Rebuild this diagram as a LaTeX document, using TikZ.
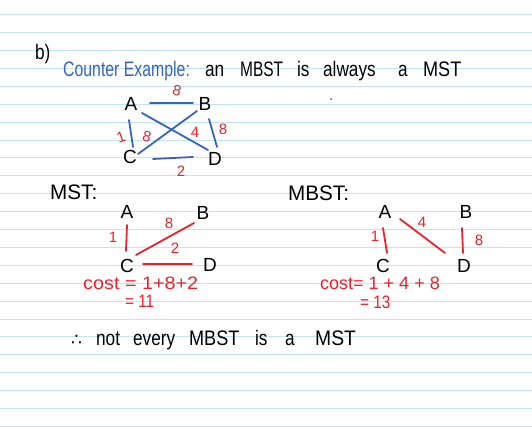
\documentclass[tikz,border=0pt]{standalone}
\usepackage{fontspec}
\setmainfont{Liberation Sans}
\newfontfamily\symfont{DejaVu Sans}
\usetikzlibrary{calc}
\definecolor{penblue}{RGB}{52,100,188}
\definecolor{penred}{RGB}{234,34,44}
\definecolor{paperrule}{RGB}{196,228,246}
\newcommand\hwbig{\fontsize{21}{21}\selectfont}
\newcommand\hwvtx{\fontsize{19}{19}\selectfont}
\newcommand\hwcost{\fontsize{18}{18}\selectfont}
\newcommand\hwlab{\fontsize{15}{15}\selectfont}
\tikzset{
  txt/.style={inner sep=0pt, anchor=base west, font=\hwbig, xscale=0.82},
  vtx/.style={inner sep=0pt, font=\hwvtx},
  redlab/.style={inner sep=0pt, text=penred, font=\hwlab},
  costtxt/.style={inner sep=0pt, anchor=base west, text=penred, font=\hwcost},
  blueedge/.style={draw=penblue, line width=1.8pt, line cap=round},
  rededge/.style={draw=penred, line width=1.8pt, line cap=round},
}
\begin{document}
\begin{tikzpicture}[x=1pt,y=-1pt]
\useasboundingbox (0,0) rectangle (532,427);
\fill[white] (0,0) rectangle (532,427);
\foreach \k in {0,...,23}
  \draw[paperrule, line width=0.9pt] (0,{14.7+17.9*\k}) -- (532,{14.7+17.9*\k});

% header
\node[txt] (b) at (35,60) {b)};
\node[txt, text=penblue, xscale=0.92] (ce) at (63,77) {Counter Example:};
\node[txt] (w1) at (205,77) {an};
\node[txt, xscale=0.9] (w2) at (240,77) {MBST};
\node[txt] (w3) at (297,77) {is};
\node[txt] (w4) at (323,77) {always};
\node[txt] (w5) at (398,77) {a};
\node[txt, xscale=1.05] (w6) at (423,77) {MST};
\fill[penblue] (331,99) circle (1pt);

% top graph
\node[vtx] (A1) at (131,104) {A};
\node[vtx] (B1) at (205,104) {B};
\node[vtx] (C1) at (130,157) {C};
\node[vtx] (D1) at (215,159) {D};
\draw[blueedge] ($(A1)+(19,-1)$) -- ($(B1)+(-12,-1)$);
\draw[blueedge] ($(A1)+(-2,16)$) -- ($(C1)+(3,-10)$);
\draw[blueedge] ($(A1)+(11,9)$) -- ($(D1)+(-7,-9)$);
\draw[blueedge] ($(B1)+(-8,7)$) -- ($(C1)+(8,-3)$);
\draw[blueedge] ($(B1)+(4,15)$) -- ($(D1)+(2,-12)$);
\draw[blueedge] ($(C1)+(23,2)$) -- ($(D1)+(-22,-2)$);
\node[redlab, rotate=-15] (t8a) at (177,91) {8};
\node[redlab, rotate=20] (t1) at (121,137) {1};
\node[redlab, rotate=-15] (t8b) at (147,137) {8};
\node[redlab] (t4) at (195,132) {4};
\node[redlab] (t8c) at (223,129) {8};
\node[redlab] (t2) at (181,171) {2};

% MST
\node[txt, xscale=1.2] (mst) at (50,200) {MST:};
\node[vtx] (A2) at (127,212) {A};
\node[vtx] (B2) at (203,213) {B};
\node[vtx] (C2) at (127,266) {C};
\node[vtx] (D2) at (210,265) {D};
\draw[rededge] ($(A2)+(0,13)$) -- ($(C2)+(-1,-15)$);
\draw[rededge] ($(C2)+(9,-11)$) -- ($(B2)+(-9,10)$);
\draw[rededge] ($(C2)+(16,-2)$) -- ($(D2)+(-18,-1)$);
\node[redlab] (m1) at (113,237) {1};
\node[redlab] (m8) at (169,223) {8};
\node[redlab] (m2) at (175,248) {2};
\node[costtxt, xscale=1.1] (mc1) at (83,290) {cost = 1+8+2};
\node[costtxt, xscale=0.85] (mc2) at (125,307) {= 11};

% MBST
\node[txt, xscale=1.2] (mbst) at (288,201) {MBST:};
\node[vtx] (A3) at (385,212) {A};
\node[vtx] (B3) at (466,212) {B};
\node[vtx] (C3) at (383,266) {C};
\node[vtx] (D3) at (464,266) {D};
\draw[rededge] ($(A3)+(-2,16)$) -- ($(C3)+(4,-13)$);
\draw[rededge] ($(A3)+(15,7)$) -- ($(D3)+(-19,-13)$);
\draw[rededge] ($(B3)+(-4,16)$) -- ($(D3)+(-1,-13)$);
\node[redlab] (b1) at (375,236) {1};
\node[redlab] (b4) at (422,222) {4};
\node[redlab] (b8) at (479,240) {8};
\node[costtxt] (bc1) at (320,290) {cost= 1 + 4 + 8};
\node[costtxt, xscale=0.85] (bc2) at (360,308) {= 13};

% conclusion
\node[inner sep=0pt, anchor=base west, font=\symfont\fontsize{17}{17}\selectfont] (therefore) at (71,345) {∴};
\node[txt] (c1) at (96,345) {not};
\node[txt] (c2) at (133,345) {every};
\node[txt, xscale=1.05] (c3) at (189,345) {MBST};
\node[txt] (c4) at (255,345) {is};
\node[txt] (c5) at (285,345) {a};
\node[txt, xscale=1.12] (c6) at (315,345) {MST};
\end{tikzpicture}
\end{document}
